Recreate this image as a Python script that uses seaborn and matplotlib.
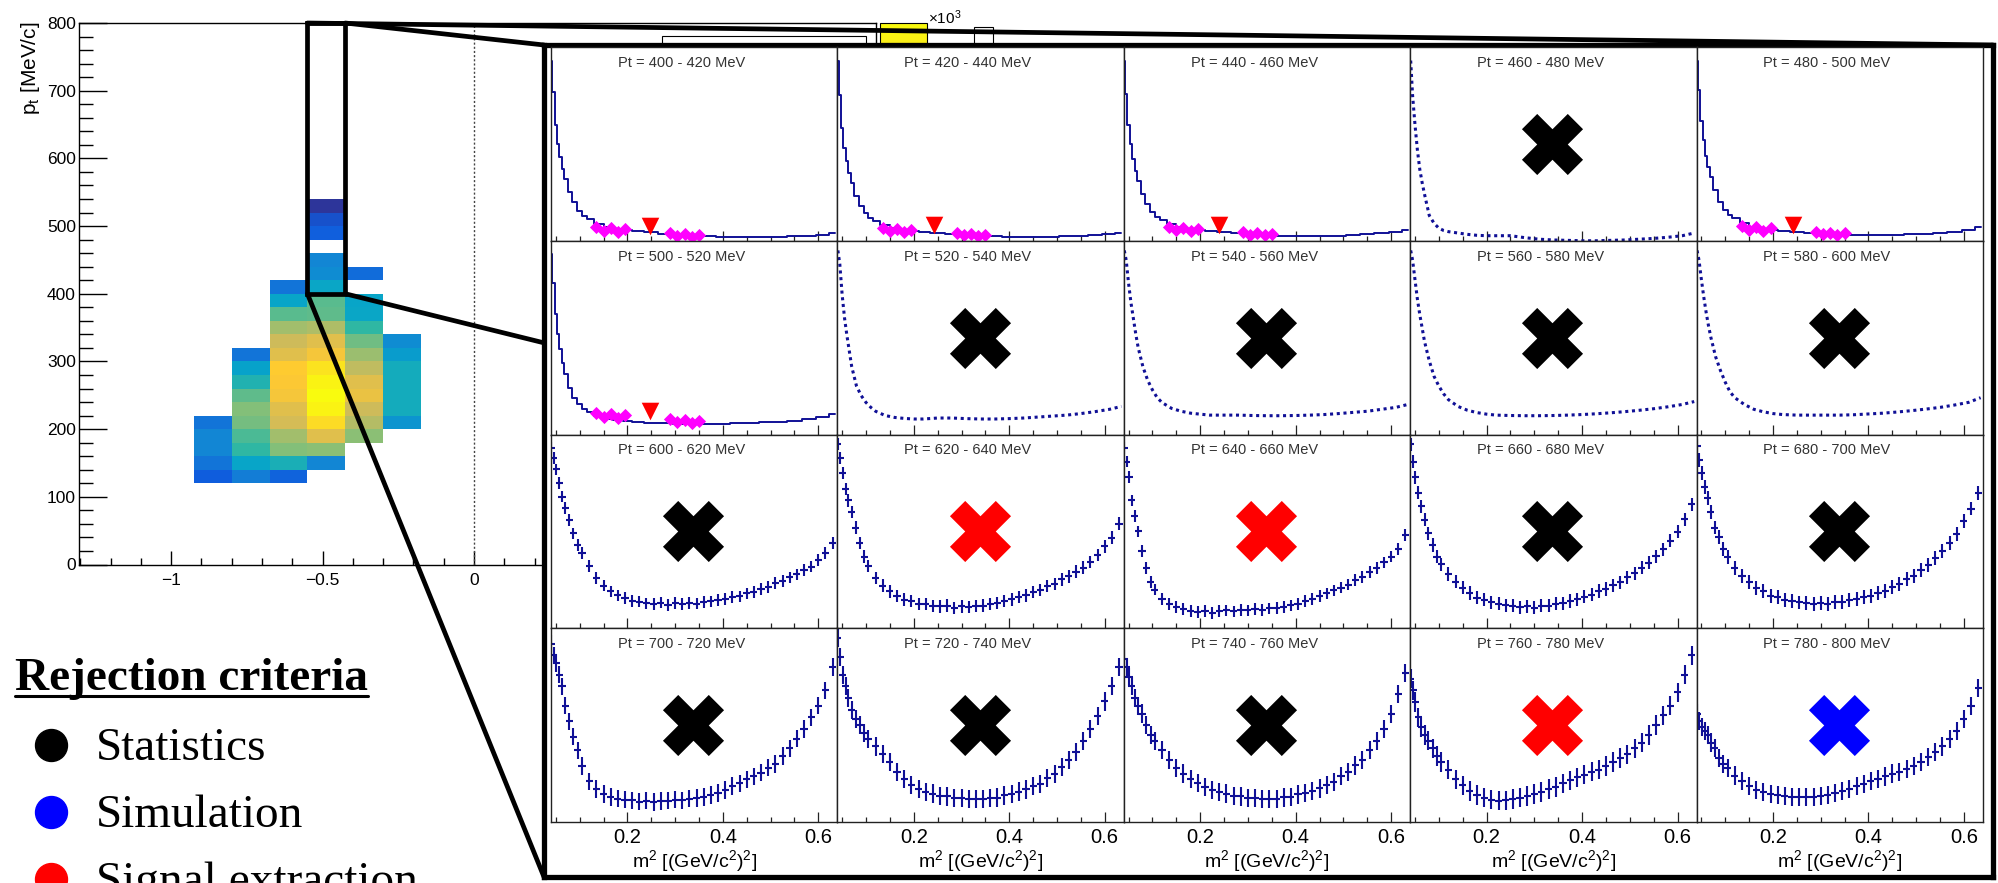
import numpy as np
import pandas as pd
import matplotlib
matplotlib.use("Agg")
import matplotlib.pyplot as plt
import seaborn as sns
from matplotlib.colors import LinearSegmentedColormap, Normalize
from matplotlib.patches import Rectangle, ConnectionPatch
from matplotlib.lines import Line2D
from matplotlib.ticker import MultipleLocator, FixedLocator, FuncFormatter, NullFormatter
import matplotlib.colorbar as mcolorbar

# ---------------------------------------------------------------- data
# 2D map (x vs pt), one list per x column, values in 10^3 counts
HM_COL_X = [-0.8625, -0.7375, -0.6125, -0.4875, -0.3625, -0.2375]
HM_COL_Y0 = [130, 130, 130, 150, 190, 210]
HM_COL_W = [
    [0.13, 0.21, 0.27, 0.27, 0.21],
    [0.24, 0.38, 0.50, 0.54, 0.60, 0.62, 0.57, 0.46, 0.37, 0.21],
    [0.15, 0.44, 0.62, 0.67, 0.76, 0.79, 0.85, 0.87, 0.88, 0.79, 0.745, 0.67, 0.56, 0.38, 0.21],
    [0.27, 0.63, 0.79, 0.92, 0.98, 1.00, 0.98, 0.94, 0.85, 0.79, 0.69, 0.57, 0.56, 0.39, 0.29,
     0.27, 0.0, 0.14, 0.10, 0.03],
    [0.63, 0.70, 0.745, 0.82, 0.79, 0.72, 0.66, 0.59, 0.50, 0.39, 0.38, 0.0, 0.18],
    [0.32, 0.42, 0.42, 0.42, 0.42, 0.35, 0.29],
]
HM_X_EDGES = [-0.925, -0.8, -0.675, -0.55, -0.425, -0.3, -0.175]
HM_Y_EDGES = [120, 140, 160, 180, 200, 220, 240, 260, 280, 300, 320, 340, 360, 380, 400,
              420, 440, 460, 480, 500, 520, 540]
ZOOM_X = [-0.55, -0.425]
ZOOM_Y = [400, 800]

PT_EDGES = [400, 420, 440, 460, 480, 500, 520, 540, 560, 580, 600,
            620, 640, 660, 680, 700, 720, 740, 760, 780, 800]

# m^2 grid of the low-pt (fitted) spectra
XS = [0.041, 0.045, 0.05, 0.055, 0.06, 0.065, 0.07, 0.08, 0.09, 0.10, 0.11, 0.12, 0.14, 0.16,
      0.18, 0.20, 0.22, 0.25, 0.28, 0.31, 0.34, 0.37, 0.40, 0.43, 0.46, 0.49, 0.52, 0.55, 0.58,
      0.61, 0.635]
Y_400 = [0.93, 0.77, 0.60, 0.50, 0.43, 0.37, 0.32, 0.25, 0.20, 0.155, 0.13, 0.11, 0.088, 0.07,
         0.06, 0.053, 0.048, 0.043, 0.036, 0.03, 0.026, 0.022, 0.019, 0.018, 0.018, 0.019, 0.02,
         0.022, 0.026, 0.031, 0.04]
Y_420 = [0.93, 0.75, 0.58, 0.48, 0.41, 0.35, 0.30, 0.23, 0.18, 0.145, 0.12, 0.10, 0.082, 0.066,
         0.057, 0.05, 0.046, 0.042, 0.036, 0.031, 0.027, 0.023, 0.02, 0.019, 0.019, 0.02, 0.022,
         0.025, 0.029, 0.034, 0.042]
Y_440 = [0.93, 0.76, 0.60, 0.50, 0.42, 0.36, 0.31, 0.24, 0.19, 0.15, 0.125, 0.105, 0.085, 0.07,
         0.06, 0.054, 0.05, 0.046, 0.04, 0.034, 0.03, 0.027, 0.025, 0.024, 0.025, 0.027, 0.03,
         0.034, 0.04, 0.046, 0.055]
Y_460 = [0.93, 0.75, 0.60, 0.47, 0.37, 0.30, 0.24, 0.13, 0.09, 0.065, 0.053, 0.047, 0.04, 0.033,
         0.028, 0.026, 0.026, 0.026, 0.016, 0.008, 0.004, 0.002, 0.0, 0.0, 0.002, 0.004, 0.008,
         0.012, 0.018, 0.026, 0.04]
Y_480 = [0.93, 0.78, 0.62, 0.52, 0.44, 0.38, 0.33, 0.26, 0.20, 0.16, 0.135, 0.115, 0.09, 0.073,
         0.062, 0.055, 0.05, 0.045, 0.04, 0.036, 0.033, 0.031, 0.03, 0.03, 0.031, 0.033, 0.036,
         0.04, 0.046, 0.054, 0.07]
Y_500 = [0.93, 0.78, 0.62, 0.52, 0.44, 0.37, 0.31, 0.24, 0.19, 0.155, 0.13, 0.115, 0.095, 0.082,
         0.074, 0.068, 0.064, 0.06, 0.058, 0.056, 0.055, 0.055, 0.056, 0.058, 0.06, 0.063, 0.067,
         0.072, 0.08, 0.09, 0.105]
Y_520 = [0.95, 0.88, 0.72, 0.60, 0.51, 0.43, 0.35, 0.25, 0.20, 0.165, 0.14, 0.12, 0.098, 0.088,
         0.083, 0.08, 0.08, 0.085, 0.085, 0.082, 0.08, 0.08, 0.082, 0.085, 0.09, 0.095, 0.10,
         0.108, 0.118, 0.13, 0.145]
Y_540 = [0.95, 0.90, 0.78, 0.68, 0.60, 0.52, 0.45, 0.35, 0.28, 0.23, 0.19, 0.165, 0.135, 0.12,
         0.11, 0.105, 0.10, 0.10, 0.10, 0.098, 0.097, 0.097, 0.098, 0.10, 0.103, 0.108, 0.114,
         0.12, 0.13, 0.14, 0.155]
Y_560 = [0.95, 0.90, 0.80, 0.70, 0.62, 0.55, 0.48, 0.38, 0.30, 0.25, 0.21, 0.18, 0.145, 0.125,
         0.113, 0.105, 0.10, 0.098, 0.097, 0.097, 0.098, 0.10, 0.103, 0.107, 0.112, 0.118, 0.125,
         0.133, 0.143, 0.155, 0.17]
Y_580 = [0.95, 0.90, 0.80, 0.71, 0.63, 0.56, 0.50, 0.40, 0.33, 0.27, 0.22, 0.19, 0.155, 0.13,
         0.117, 0.108, 0.103, 0.10, 0.10, 0.10, 0.10, 0.102, 0.106, 0.11, 0.116, 0.123, 0.131,
         0.14, 0.152, 0.166, 0.19]

# m^2 grid of the high-pt spectra (points with errors)
XU = [0.041, 0.046, 0.051, 0.057, 0.063, 0.070, 0.078, 0.087, 0.096, 0.105,
      0.120, 0.135, 0.150, 0.165, 0.180, 0.195, 0.210, 0.225, 0.240, 0.255,
      0.270, 0.285, 0.300, 0.315, 0.330, 0.345, 0.360, 0.375, 0.390, 0.405,
      0.420, 0.435, 0.450, 0.465, 0.480, 0.495, 0.510, 0.525, 0.540, 0.555,
      0.570, 0.585, 0.600, 0.615, 0.630]
Y_600 = [0.93, 0.88, 0.82, 0.75, 0.68, 0.62, 0.56, 0.49, 0.43, 0.39,
         0.32, 0.26, 0.22, 0.19, 0.17, 0.155, 0.14, 0.138, 0.128, 0.126,
         0.132, 0.12, 0.129, 0.124, 0.131, 0.127, 0.136, 0.139, 0.147, 0.15,
         0.161, 0.164, 0.18, 0.188, 0.202, 0.213, 0.232, 0.243, 0.262, 0.278,
         0.302, 0.318, 0.352, 0.388, 0.44]
Y_620 = [0.95, 0.88, 0.80, 0.72, 0.66, 0.60, 0.52, 0.44, 0.37, 0.32,
         0.26, 0.22, 0.19, 0.167, 0.148, 0.142, 0.126, 0.124, 0.116, 0.113,
         0.117, 0.106, 0.113, 0.109, 0.116, 0.117, 0.126, 0.129, 0.141, 0.149,
         0.162, 0.17, 0.187, 0.198, 0.217, 0.228, 0.252, 0.268, 0.292, 0.313,
         0.342, 0.378, 0.422, 0.468, 0.54]
Y_640 = [0.93, 0.86, 0.78, 0.66, 0.58, 0.50, 0.40, 0.31, 0.24, 0.20,
         0.15, 0.125, 0.11, 0.10, 0.09, 0.085, 0.09, 0.08, 0.088, 0.092,
         0.087, 0.095, 0.092, 0.10, 0.095, 0.102, 0.105, 0.11, 0.118, 0.125,
         0.14, 0.15, 0.165, 0.18, 0.195, 0.21, 0.225, 0.25, 0.265, 0.29,
         0.31, 0.34, 0.37, 0.41, 0.48]
Y_660 = [0.95, 0.86, 0.78, 0.70, 0.63, 0.56, 0.49, 0.43, 0.37, 0.33,
         0.28, 0.24, 0.21, 0.182, 0.158, 0.147, 0.133, 0.127, 0.118, 0.116,
         0.109, 0.113, 0.107, 0.116, 0.117, 0.126, 0.129, 0.141, 0.149, 0.162,
         0.173, 0.192, 0.203, 0.222, 0.238, 0.262, 0.283, 0.312, 0.338, 0.372,
         0.408, 0.452, 0.498, 0.562, 0.64]
Y_680 = [0.94, 0.87, 0.80, 0.73, 0.67, 0.60, 0.52, 0.47, 0.41, 0.37,
         0.31, 0.27, 0.24, 0.21, 0.19, 0.168, 0.162, 0.148, 0.142, 0.133,
         0.131, 0.126, 0.132, 0.127, 0.136, 0.137, 0.146, 0.149, 0.162, 0.168,
         0.182, 0.193, 0.212, 0.228, 0.252, 0.268, 0.302, 0.328, 0.362, 0.398,
         0.442, 0.488, 0.552, 0.618, 0.70]
Y_700 = [0.92, 0.86, 0.82, 0.76, 0.70, 0.60, 0.52, 0.44, 0.37, 0.29,
         0.21, 0.17, 0.145, 0.13, 0.12, 0.115, 0.112, 0.105, 0.11, 0.104,
         0.108, 0.11, 0.115, 0.112, 0.12, 0.125, 0.13, 0.14, 0.15, 0.165,
         0.185, 0.20, 0.22, 0.235, 0.255, 0.28, 0.30, 0.34, 0.38, 0.43,
         0.48, 0.54, 0.60, 0.68, 0.80]
Y_720 = [0.95, 0.85, 0.76, 0.70, 0.64, 0.58, 0.53, 0.50, 0.46, 0.43,
         0.39, 0.35, 0.31, 0.26, 0.22, 0.19, 0.172, 0.153, 0.147, 0.133,
         0.132, 0.123, 0.124, 0.118, 0.12, 0.118, 0.124, 0.126, 0.137, 0.143,
         0.157, 0.168, 0.187, 0.198, 0.227, 0.248, 0.282, 0.318, 0.362, 0.418,
         0.482, 0.548, 0.622, 0.70, 0.80]
Y_740 = [0.84, 0.80, 0.75, 0.70, 0.64, 0.60, 0.56, 0.50, 0.45, 0.42,
         0.37, 0.32, 0.28, 0.25, 0.22, 0.20, 0.18, 0.167, 0.153, 0.147,
         0.133, 0.132, 0.123, 0.122, 0.118, 0.12, 0.118, 0.127, 0.128, 0.142,
         0.148, 0.162, 0.173, 0.192, 0.208, 0.237, 0.258, 0.292, 0.318, 0.372,
         0.418, 0.482, 0.558, 0.662, 0.77]
Y_760 = [0.74, 0.68, 0.62, 0.54, 0.49, 0.45, 0.42, 0.38, 0.34, 0.31,
         0.27, 0.22, 0.19, 0.16, 0.14, 0.125, 0.115, 0.11, 0.112, 0.118,
         0.125, 0.135, 0.145, 0.155, 0.17, 0.18, 0.20, 0.215, 0.23, 0.245,
         0.26, 0.27, 0.29, 0.31, 0.33, 0.35, 0.38, 0.41, 0.45, 0.50,
         0.55, 0.60, 0.67, 0.76, 0.86]
Y_780 = [0.56, 0.52, 0.49, 0.47, 0.45, 0.41, 0.38, 0.33, 0.30, 0.28,
         0.24, 0.21, 0.185, 0.165, 0.155, 0.145, 0.14, 0.135, 0.13, 0.13,
         0.128, 0.13, 0.135, 0.14, 0.15, 0.16, 0.17, 0.185, 0.195, 0.21,
         0.22, 0.235, 0.25, 0.26, 0.275, 0.29, 0.31, 0.335, 0.36, 0.39,
         0.43, 0.47, 0.53, 0.60, 0.69]

PANEL_Y = [Y_400, Y_420, Y_440, Y_460, Y_480, Y_500, Y_520, Y_540, Y_560, Y_580,
           Y_600, Y_620, Y_640, Y_660, Y_680, Y_700, Y_720, Y_740, Y_760, Y_780]
PANEL_KIND = ["step", "step", "step", "dots", "step",
              "step", "dots", "dots", "dots", "dots",
              "err", "err", "err", "err", "err",
              "err", "err", "err", "err", "err"]
PANEL_ERR = [0, 0, 0, 0, 0, 0, 0, 0, 0, 0,
             0.03, 0.032, 0.03, 0.034, 0.036,
             0.045, 0.047, 0.047, 0.05, 0.047]
# rejection reason per bin: "" accepted, "stat", "sim", "sig"
PANEL_REJECT = ["", "", "", "stat", "",
                "", "stat", "stat", "stat", "stat",
                "stat", "sig", "sig", "stat", "stat",
                "stat", "stat", "stat", "sig", "sim"]

# fit ranges (magenta) and peak position (red triangle) of accepted bins
MAG_X = [0.135, 0.15, 0.165, 0.18, 0.195, 0.29, 0.305, 0.32, 0.335, 0.35]
MAG_Y = {0: [0.07, 0.05, 0.065, 0.045, 0.06, 0.04, 0.025, 0.035, 0.02, 0.03],
         1: [0.065, 0.05, 0.06, 0.045, 0.055, 0.04, 0.028, 0.035, 0.022, 0.03],
         2: [0.07, 0.055, 0.065, 0.05, 0.06, 0.045, 0.03, 0.04, 0.028, 0.035],
         4: [0.075, 0.055, 0.07, 0.05, 0.065, 0.045, 0.035, 0.042, 0.03, 0.038],
         5: [0.11, 0.09, 0.105, 0.085, 0.10, 0.08, 0.065, 0.075, 0.06, 0.07]}
TRI_X = {0: 0.248, 1: 0.243, 2: 0.240, 4: 0.243, 5: 0.248}
TRI_Y = {0: 0.075, 1: 0.08, 2: 0.08, 4: 0.08, 5: 0.12}

LEGEND_LABELS = ["Statistics", "Simulation", "Signal extraction"]
LEGEND_KEYS = ["stat", "sim", "sig"]
REJ_COLORS = {"stat": "#000000", "sim": "#0000ff", "sig": "#ff0000"}

# ---------------------------------------------------------------- style
sns.set_theme(style="ticks")
plt.rcParams["font.family"] = ["Liberation Sans", "DejaVu Sans"]
plt.rcParams["mathtext.fontset"] = "custom"
plt.rcParams["mathtext.rm"] = "Liberation Sans"
plt.rcParams["mathtext.it"] = "Liberation Sans:italic"
plt.rcParams["axes.unicode_minus"] = True
for key in ["text.color", "axes.labelcolor", "xtick.color", "ytick.color", "axes.edgecolor"]:
    plt.rcParams[key] = "black"

NAVY = "#101096"
W, H = 1999, 883
fig = plt.figure(figsize=(W / 100, H / 100), dpi=100)
fig.patch.set_facecolor("white")


def fbox(x0, y0, x1, y1):
    return [x0 / W, 1 - y1 / H, (x1 - x0) / W, (y1 - y0) / H]


bird = LinearSegmentedColormap.from_list("bird", [
    (0.2082, 0.1664, 0.5293), (0.0592, 0.3599, 0.8684), (0.0780, 0.5041, 0.8385),
    (0.0232, 0.6419, 0.7914), (0.1802, 0.7178, 0.6425), (0.5301, 0.7492, 0.4662),
    (0.8186, 0.7328, 0.3499), (0.9956, 0.7862, 0.1968), (0.9764, 0.9832, 0.0539)])

# ---------------------------------------------------------------- 2D map
hx, hy, hw = [], [], []
for cx, y0, ws in zip(HM_COL_X, HM_COL_Y0, HM_COL_W):
    for k, w in enumerate(ws):
        if w > 0:
            hx.append(cx)
            hy.append(y0 + 20 * k)
            hw.append(w)
df = pd.DataFrame({"x": hx, "y": hy, "w": hw})

axh = fig.add_axes(fbox(79.3, 23, 876, 564.5))
sns.histplot(data=df, x="x", y="y", weights="w", bins=(HM_X_EDGES, HM_Y_EDGES),
             cmap=bird, vmin=0, vmax=1, ax=axh, cbar=False)
axh.set_xlim(-1.303, 1.327)
axh.set_ylim(0, 800)
axh.set_xlabel("")
axh.set_ylabel("")
axh.axvline(0, color="#444444", lw=1.0, ls=(0, (1.5, 1.5)))
axh.xaxis.set_major_locator(MultipleLocator(0.5))
axh.xaxis.set_minor_locator(MultipleLocator(0.1))
axh.yaxis.set_major_locator(MultipleLocator(100))
axh.yaxis.set_minor_locator(MultipleLocator(20))
axh.xaxis.set_major_formatter(FuncFormatter(lambda v, p: ("%g" % v).replace("-", "\u2212")))
axh.tick_params(axis="x", which="major", direction="in", length=10, width=1, labelsize=12.5,
                pad=6, bottom=True, top=False, colors="black")
axh.tick_params(axis="x", which="minor", direction="in", length=5, width=1, bottom=True, top=False)
axh.tick_params(axis="y", which="major", direction="in", length=20, width=1, labelsize=12.5,
                pad=2.5, left=True, right=False, colors="black")
axh.tick_params(axis="y", which="minor", direction="in", length=10, width=1, left=True, right=False)
for s in axh.spines.values():
    s.set_visible(True)
    s.set_linewidth(1.0)
    s.set_color("black")
axh.add_patch(Rectangle((ZOOM_X[0], ZOOM_Y[0]), ZOOM_X[1] - ZOOM_X[0], ZOOM_Y[1] - ZOOM_Y[0],
                        fill=False, ec="black", lw=3.4, zorder=6, clip_on=False))
# stat box remnants peeking above the inset
axh.add_patch(Rectangle((662 / W, 1 - 75 / H), 204 / W, 39 / H, transform=fig.transFigure,
                        fill=False, ec="black", lw=0.8, clip_on=False))
axh.add_patch(Rectangle((974 / W, 1 - 70 / H), 19 / W, 43 / H, transform=fig.transFigure,
                        fill=False, ec="black", lw=0.8, clip_on=False))
fig.text(31 / W, 1 - 22 / H, r"p$_{\mathrm{t}}$ [MeV/c]", rotation=90, ha="center", va="top",
         fontsize=15)

# colour palette of the map (mostly hidden behind the inset)
axc = fig.add_axes(fbox(880, 23, 927, 564.5))
mcolorbar.ColorbarBase(axc, cmap=bird, norm=Normalize(0, 1))
axc.set_yticks([])
for s in axc.spines.values():
    s.set_linewidth(0.8)
fig.text(928 / W, 1 - 24 / H, r"$\times$10$^{3}$", fontsize=11, va="baseline")

# ---------------------------------------------------------------- inset
axi = fig.add_axes(fbox(544, 45, 1993, 877))
axi.set_facecolor("white")
axi.set_xticks([])
axi.set_yticks([])
for s in axi.spines.values():
    s.set_visible(True)
    s.set_linewidth(3.8)
    s.set_color("black")

GX0, GY0, GX1, GY1 = 551, 47, 1983, 822
PW = (GX1 - GX0) / 5
PH = (GY1 - GY0) / 4

for i in range(20):
    r, c = divmod(i, 5)
    ax = fig.add_axes(fbox(GX0 + c * PW, GY0 + r * PH, GX0 + (c + 1) * PW, GY0 + (r + 1) * PH))
    ax.set_facecolor("white")
    kind = PANEL_KIND[i]
    yv = PANEL_Y[i]
    if kind == "step":
        assert len(yv) == len(XS)
        sns.lineplot(x=XS, y=yv, ax=ax, color=NAVY, lw=1.4, drawstyle="steps-mid",
                     estimator=None, sort=False)
    elif kind == "dots":
        assert len(yv) == len(XS)
        sns.lineplot(x=XS, y=yv, ax=ax, color=NAVY, lw=2.2, ls=(0, (1, 1.2)),
                     estimator=None, sort=False)
    else:
        assert len(yv) == len(XU)
        ax.errorbar(XU, yv, yerr=PANEL_ERR[i], xerr=0.0075, fmt="none", ecolor=NAVY,
                    elinewidth=1.5, capsize=0)
    if i in MAG_Y:
        sns.scatterplot(x=MAG_X, y=MAG_Y[i], ax=ax, marker="D", s=45, color="#ff00ff",
                        linewidth=0, zorder=5)
        sns.scatterplot(x=[TRI_X[i]], y=[TRI_Y[i]], ax=ax, marker="v", s=160, color="#ff0000",
                        linewidth=0, zorder=6)
    if PANEL_REJECT[i]:
        sns.scatterplot(x=[0.338], y=[0.5], ax=ax, marker="X", s=44 ** 2,
                        color=REJ_COLORS[PANEL_REJECT[i]], linewidth=0, zorder=7)
    ax.set_xlim(0.04, 0.64)
    ax.set_ylim(0, 1)
    ax.set_ylabel("")
    ax.set_yticks([])
    ax.xaxis.set_major_locator(FixedLocator([0.2, 0.4, 0.6]))
    ax.xaxis.set_minor_locator(MultipleLocator(0.05))
    ax.tick_params(axis="x", which="major", direction="in", length=7, width=0.9, colors="#222222",
                   labelsize=14.5, pad=4, bottom=True, top=False, labelcolor="black")
    ax.tick_params(axis="x", which="minor", direction="in", length=3.5, width=0.9,
                   colors="#222222", bottom=True, top=False)
    if r < 3:
        ax.xaxis.set_major_formatter(NullFormatter())
        ax.set_xlabel("")
    else:
        ax.xaxis.set_major_formatter(FuncFormatter(lambda v, p: "%.1f" % v))
        ax.set_xlabel(r"m$^{2}$ [(GeV/c$^{2}$)$^{2}$]", fontsize=14, labelpad=1)
    for s in ax.spines.values():
        s.set_visible(True)
        s.set_linewidth(1.0)
        s.set_color("#222222")
    ax.text(0.455, 0.918, "Pt = %d - %d MeV" % (PT_EDGES[i], PT_EDGES[i + 1]),
            transform=ax.transAxes, ha="center", va="center", fontsize=10.5, color="#333333")

# ---------------------------------------------------------------- zoom lines
links = [((ZOOM_X[0], ZOOM_Y[1]), (1, 1)),
         ((ZOOM_X[1], ZOOM_Y[1]), (0, 1)),
         ((ZOOM_X[1], ZOOM_Y[0]), (0, 0.642)),
         ((ZOOM_X[0], ZOOM_Y[0]), (0, 0))]
for pa, pb in links:
    con = ConnectionPatch(xyA=pa, coordsA=axh.transData, xyB=pb, coordsB=axi.transAxes,
                          color="black", lw=3.4, zorder=20)
    fig.add_artist(con)

# ---------------------------------------------------------------- legend
title = fig.text(15 / W, 1 - 690 / H, "Rejection criteria", fontsize=34, fontweight="bold",
                 family=["Liberation Serif", "DejaVu Serif"], va="baseline", zorder=25,
                 color="black")
fig.canvas.draw()
bb = title.get_window_extent(renderer=fig.canvas.get_renderer())
fig.add_artist(Line2D([bb.x0 / W, bb.x1 / W], [1 - 696 / H, 1 - 696 / H],
                      transform=fig.transFigure, color="black", lw=2.2, zorder=25))
for k, (lab, key) in enumerate(zip(LEGEND_LABELS, LEGEND_KEYS)):
    cy = 745 + 67 * k
    fig.add_artist(Line2D([51 / W], [1 - cy / H], marker="o", ms=23, ls="none",
                          color=REJ_COLORS[key], transform=fig.transFigure, zorder=25))
    fig.text(96 / W, 1 - (cy + 15) / H, lab, fontsize=34, color="black",
             family=["Liberation Serif", "DejaVu Serif"], va="baseline", zorder=25)

fig.savefig("out.png", dpi=100, facecolor="white")
